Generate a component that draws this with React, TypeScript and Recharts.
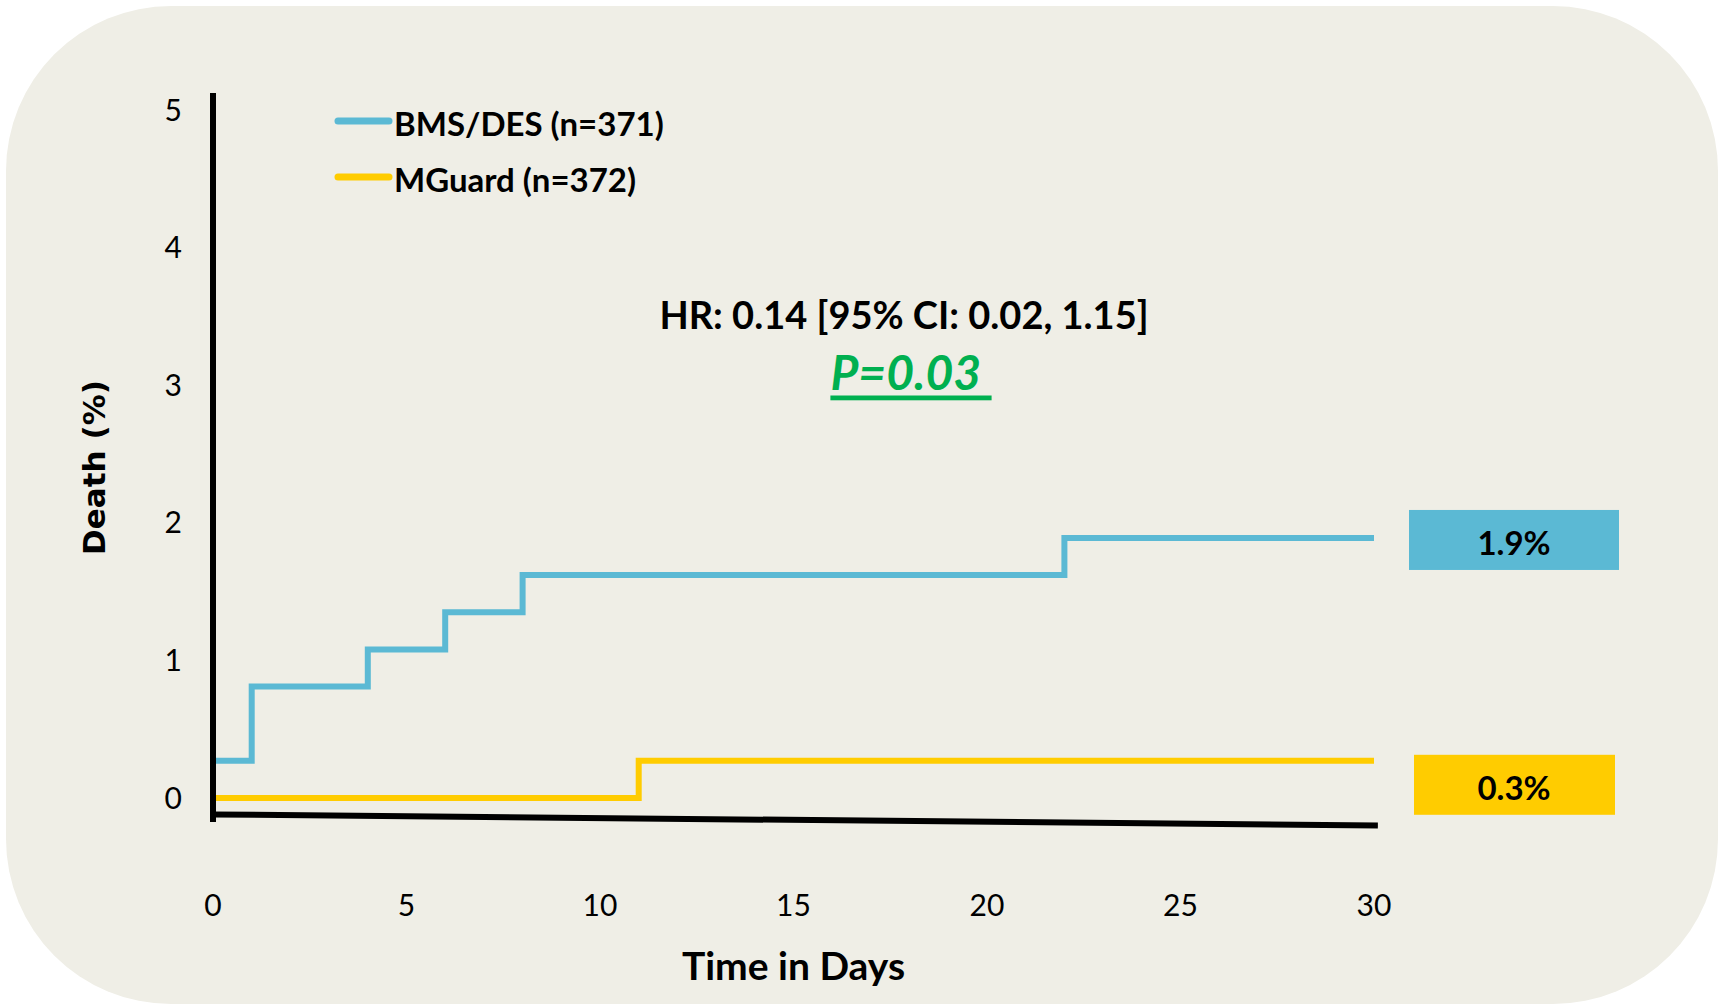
import React from "react";
import {
  LineChart,
  Line,
  XAxis,
  YAxis,
  Legend,
  Label,
  LabelList,
  ReferenceLine,
  Customized,
} from "recharts";

// Kaplan-Meier style cumulative death (%) by day
const bmsDays = [0, 0, 1, 4, 6, 8, 22, 30];
const bmsDeath = [0, 0.27, 0.81, 1.08, 1.35, 1.62, 1.89, 1.89];
const mguardDays = [0, 11, 30];
const mguardDeath = [0, 0.27, 0.27];

const xTicks = [0, 5, 10, 15, 20, 25, 30];
const yTicks = [0, 1, 2, 3, 4, 5];

// hand-drawn looking (slanted) baseline of the original slide
const baseDays = [0, 30.1];
const baseDeath = [-0.12, -0.2];

const seriesNames = ["BMS/DES (n=371)", "MGuard (n=372)"];
const hrText = "HR: 0.14 [95% CI: 0.02, 1.15]";
const pText = "P=0.03";

const BLUE = "#5bb9d4";
const YELLOW = "#ffcc00";
const BG = "#efeee6";
const FONT = "Lato, 'Open Sans', sans-serif";

const bmsData = bmsDays.map((d, i) => ({ day: d, death: bmsDeath[i] }));
const mguardData = mguardDays.map((d, i) => ({ day: d, death: mguardDeath[i] }));

const endBox = (color: string, dx: number, dy: number, w: number, last: number) => (props: any) => {
  const { x, y, value, index } = props;
  if (index !== last) return null;
  const h = 60;
  const cx = 1514;
  return (
    <g>
      <rect x={x + dx} y={y + dy - h / 2} width={w} height={h} fill={color} />
      <text
        x={cx}
        y={y + dy + 2}
        textAnchor="middle"
        dominantBaseline="central"
        fontFamily={FONT}
        fontWeight={700}
        fontSize={33}
        fill="#000"
      >
        {`${Number(value).toFixed(1)}%`}
      </text>
    </g>
  );
};

const renderLegend = () => {
  const colors = [BLUE, YELLOW];
  return (
    <div style={{ fontFamily: FONT, fontWeight: 700, fontSize: 33, color: "#000" }}>
      {seriesNames.map((n, i) => (
        <div key={n} style={{ display: "flex", alignItems: "center", height: 56 }}>
          <svg width={60} height={10} style={{ display: "block" }}>
            <line x1={4} y1={5} x2={55} y2={5} stroke={colors[i]} strokeWidth={7} strokeLinecap="round" />
          </svg>
          <span style={{ whiteSpace: "nowrap", marginTop: 3 }}>{n}</span>
        </div>
      ))}
    </div>
  );
};

const Annotation = () => (
  <g>
    <text x={904} y={314} textAnchor="middle" dominantBaseline="central" fontFamily={FONT} fontWeight={700} fontSize={38} fill="#000">
      {hrText}
    </text>
    <text
      x={911}
      y={371}
      textAnchor="middle"
      dominantBaseline="central"
      fontFamily={FONT}
      fontWeight={700}
      fontStyle="italic"
      fontSize={48}
      fill="#00b050"
      textDecoration="underline"
    >
      {pText + "\u00a0"}
    </text>
  </g>
);

export default function App(): JSX.Element {
  return (
    <div style={{ position: "absolute", left: 0, top: 0, width: 1723, height: 1007, background: "#fff" }}>
      <div
        style={{
          position: "absolute",
          left: 6,
          top: 6,
          width: 1712,
          height: 998,
          background: BG,
          borderRadius: 165,
        }}
      />
      <div style={{ position: "absolute", left: 0, top: 0 }}>
        <LineChart width={1723} height={1007} margin={{ top: 93, right: 349, left: 0, bottom: 0 }}>
          <XAxis
            type="number"
            dataKey="day"
            domain={[0, 30]}
            ticks={xTicks}
            allowDuplicatedCategory={false}
            axisLine={false}
            tickLine={false}
            tickSize={0}
            tickMargin={73}
            height={185}
            tick={{ fill: "#000", fontSize: 30, fontFamily: FONT }}
          >
            <Label
              value="Time in Days"
              position="insideBottom"
              offset={27}
              style={{ fontFamily: FONT, fontWeight: 700, fontSize: 39, fill: "#000" }}
            />
          </XAxis>
          <YAxis
            type="number"
            domain={[-0.175, 5.125]}
            ticks={yTicks}
            allowDataOverflow
            width={213}
            axisLine={{ stroke: "#000", strokeWidth: 6 }}
            tickLine={false}
            tickSize={0}
            tickMargin={31}
            tick={{ fill: "#000", fontSize: 30, fontFamily: FONT }}
          >
            <Label
              value="Death (%)"
              position="center"
              angle={-90}
              dx={-13}
              dy={10}
              style={{ fontFamily: "'DejaVu Sans', sans-serif", fontWeight: 700, fontSize: 31, fill: "#000" }}
            />
          </YAxis>
          <ReferenceLine
            segment={[
              { x: baseDays[0], y: baseDeath[0] },
              { x: baseDays[1], y: baseDeath[1] },
            ]}
            stroke="#000"
            strokeWidth={6}
            ifOverflow="visible"
          />
          <Legend
            layout="vertical"
            align="center"
            verticalAlign="middle"
            content={renderLegend}
            wrapperStyle={{ left: 334, top: 93, width: "auto" }}
          />
          <Line
            data={bmsData}
            dataKey="death"
            type="stepAfter"
            name={seriesNames[0]}
            stroke={BLUE}
            strokeWidth={6}
            dot={false}
            activeDot={false}
            isAnimationActive={false}
          >
            <LabelList dataKey="death" content={endBox(BLUE, 35, 2, 210, bmsData.length - 1)} />
          </Line>
          <Line
            data={mguardData}
            dataKey="death"
            type="stepAfter"
            name={seriesNames[1]}
            stroke={YELLOW}
            strokeWidth={6}
            dot={false}
            activeDot={false}
            isAnimationActive={false}
          >
            <LabelList dataKey="death" content={endBox(YELLOW, 40, 24, 201, mguardData.length - 1)} />
          </Line>
          <Customized component={Annotation} />
        </LineChart>
      </div>
    </div>
  );
}
